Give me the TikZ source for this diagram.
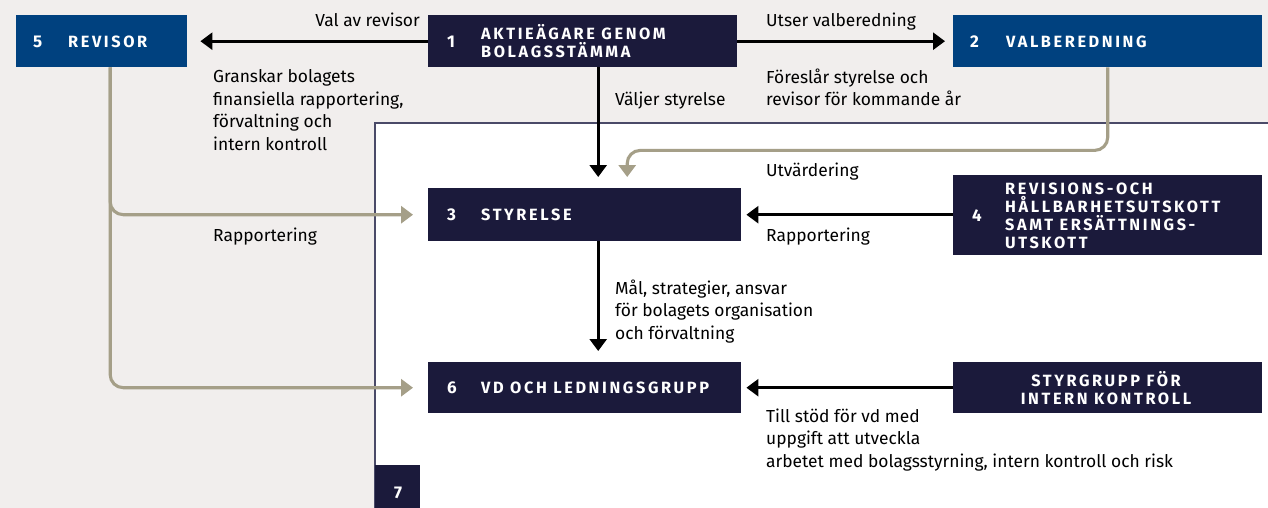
\documentclass[tikz,border=0pt]{standalone}
\usepackage{fontspec}
\setmainfont{Fira Sans}
\newfontfamily\boxfont[LetterSpace=16]{Fira Sans}
\usetikzlibrary{arrows.meta}
\definecolor{bg}{HTML}{F1EEED}
\definecolor{navy}{HTML}{1B1A3B}
\definecolor{blu}{HTML}{00417F}
\definecolor{taupe}{HTML}{A59F88}
\definecolor{framec}{HTML}{4A4A68}
\begin{document}
\begin{tikzpicture}[x=1pt,y=-1pt,
  navybox/.style={fill=navy, draw=none, inner sep=0, anchor=north west},
  bluebox/.style={fill=blu, draw=none, inner sep=0, anchor=north west},
  num/.style={text=white, font=\fontsize{17}{18}\selectfont\bfseries, inner sep=0, anchor=west},
  btxt/.style={text=white, font=\boxfont\fontsize{16.3}{18}\selectfont\bfseries, inner sep=0, anchor=west, align=left},
  lbl/.style={text=black, font=\fontsize{17.4}{22.5}\selectfont, inner sep=0, anchor=base west, align=left},
  blk/.style={draw=black, line width=2.7pt, -{Triangle[width=17pt,length=12pt]}},
  gry/.style={draw=taupe, line width=3.1pt, rounded corners=13pt, -{Triangle[width=17pt,length=12pt]}}
]
\useasboundingbox (0,0) rectangle (1268,508);
\fill[bg] (0,0) rectangle (1268,508);
\fill[white] (375,123) rectangle (1268,508);
\draw[framec, line width=1.3pt] (375,508) -- (375,123) -- (1268,123);

% boxes
\node[bluebox, minimum width=171pt, minimum height=52pt] (b5) at (16,15) {};
\node[navybox, minimum width=309pt, minimum height=52pt] (b1) at (428,15) {};
\node[bluebox, minimum width=309pt, minimum height=52pt] (b2) at (953,15) {};
\node[navybox, minimum width=313pt, minimum height=53pt] (b3) at (428,188) {};
\node[navybox, minimum width=309pt, minimum height=80pt] (b4) at (953,175) {};
\node[navybox, minimum width=313pt, minimum height=51pt] (b6) at (428,362) {};
\node[navybox, minimum width=309pt, minimum height=51pt] (b8) at (953,362) {};
\node[navybox, minimum width=45pt, minimum height=43pt] (b7) at (375,465) {};

% box texts
\node[num] (n5) at (33,42) {5};
\node[btxt] (t5) at (68,42) {REVISOR};
\node[num] (n1) at (447,42) {1};
\node[btxt] (t1) at (481,41) {AKTIEÄGARE GENOM\\BOLAGSSTÄMMA};
\node[num] (n2) at (970,42) {2};
\node[btxt] (t2) at (1006,42) {VALBEREDNING};
\node[num] (n3) at (447,215) {3};
\node[btxt] (t3) at (481,215) {STYRELSE};
\node[num] (n4) at (972,216) {4};
\node[btxt] (t4) at (1005,216) {REVISIONS-OCH\\HÅLLBARHETSUTSKOTT\\SAMT ERSÄTTNINGS-\\UTSKOTT};
\node[num] (n6) at (447,388) {6};
\node[btxt] (t6) at (481,388) {VD OCH LEDNINGSGRUPP};
\node[btxt, anchor=center, align=center] (t8) at (1106,388) {STYRGRUPP FÖR\\INTERN KONTROLL};
\node[num, anchor=center] (n7) at (398,493) {7};

% black connectors
\draw[blk, shorten >=13pt] (b1.west) -- (b5.east);
\draw[blk, shorten >=8pt] (b1.east) -- (b2.west);
\draw[blk, shorten >=11pt] ([xshift=15.5pt]b1.south) -- ([xshift=13.5pt]b3.north);
\draw[blk, shorten >=11pt] ([xshift=13.5pt]b3.south) -- ([xshift=13.5pt]b6.north);
\draw[blk, shorten >=5pt] (b4.west |- b3.east) -- (b3.east);
\draw[blk, shorten >=5pt] (b8.west) -- (b6.east);

% grey connectors
\draw[gry, shorten >=11pt] (b2.south) -- ++(0,83) -| ([xshift=42.5pt]b3.north);
\draw[gry, shorten >=15pt] ([xshift=8.5pt]b5.south) |- (b3.west);
\draw[gry, shorten >=15pt] ([xshift=8.5pt]b5.south) |- (b6.west);

% labels (multi-line nodes: base = last line)
\node[lbl, anchor=base east] (l1) at (420,27) {Val av revisor};
\node[lbl] (l2) at (766,27) {Utser valberedning};
\node[lbl] (l3) at (213,150) {Granskar bolagets\\finansiella rapportering,\\förvaltning och\\intern kontroll};
\node[lbl] (l4) at (615,106) {Väljer styrelse};
\node[lbl] (l5) at (766,106) {Föreslår styrelse och\\revisor för kommande år};
\node[lbl] (l6) at (766,176) {Utvärdering};
\node[lbl] (l7) at (213,241) {Rapportering};
\node[lbl] (l8) at (766,241) {Rapportering};
\node[lbl] (l9) at (615,339) {Mål, strategier, ansvar\\för bolagets organisation\\och förvaltning};
\node[lbl] (l10) at (766,467) {Till stöd för vd med\\uppgift att utveckla\\arbetet med bolagsstyrning, intern kontroll och risk};
\end{tikzpicture}
\end{document}
